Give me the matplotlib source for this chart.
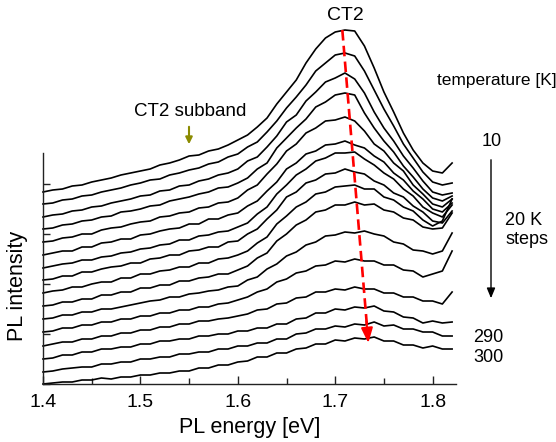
import numpy as np
import matplotlib
matplotlib.use('Agg')
import matplotlib.pyplot as plt

plt.rcParams['font.family'] = ['Liberation Sans', 'DejaVu Sans']

# PL energy grid [eV]
energy = np.round(np.arange(1.40, 1.8201, 0.01), 2)

temperatures = [10, 30, 50, 70, 90, 110, 130, 150, 170, 190, 210, 230, 250, 270, 290, 300]

# stacked PL spectra (arb. units, already vertically offset), top = 10 K
pl_10 = [192,194,195,198,199,202,204,206,209,211, 213,215,219,221,224,228,229,233,235,239,
         244,249,257,266,280,292,304,321,335,346, 352,354,353,338,316,292,272,251,234,221, 213,211,221]
pl_30 = [180,181,184,185,188,189,192,194,196,199, 201,204,205,209,211,214,216,220,222,227,
         230,237,242,252,263,276,287,299,313,321, 329,331,328,313,294,275,258,240,226,212, 202,199,201]
pl_50 = [167,169,170,173,174,177,178,181,183,185, 188,189,193,194,198,199,203,205,209,211,
         215,223,227,237,248,262,269,283,292,302, 306,311,305,291,272,256,243,228,216,203, 192,189,191]
pl_70 = [155,156,159,160,163,164,167,168,172,173, 175,178,179,183,185,187,190,192,196,197,
         201,206,215,221,236,246,256,265,277,282, 289,291,289,271,256,243,232,218,207,195, 186,183,188]
pl_90 = [142,143,146,147,150,150,154,156,157,160, 162,163,167,168,171,172,176,177,181,182,
         186,194,199,210,220,233,240,251,256,263, 264,267,263,253,240,233,221,213,199,190, 180,177,185]
pl_110 = [129,131,133,133,137,137,141,142,145,145, 149,150,153,155,156,160,160,165,165,169,
          171,178,183,193,202,215,221,230,233,239, 240,243,239,236,228,222,211,204,193,185, 175,172,181]
pl_130 = [116,118,120,121,124,124,127,128,131,132, 135,136,139,140,144,144,148,149,152,153,
          157,161,170,177,190,199,209,215,223,226, 231,231,232,225,219,211,205,195,188,177, 171,167,179]
pl_150 = [104,105,108,108,112,112,115,117,118,121, 121,125,126,129,129,133,134,137,137,142,
          143,150,155,165,174,187,192,201,204,210, 211,215,212,210,203,199,191,187,178,172, 163,161,173]
pl_170 = [91,93,94,97,97,100,102,102,106,106, 110,110,113,114,117,117,121,121,125,126,
          129,133,141,147,160,168,177,182,190,192, 197,198,199,195,195,187,184,177,173,164, 158,163,185]
pl_190 = [78,79,82,82,85,85,89,89,92,92, 96,96,99,99,103,103,106,107,110,110,
          114,118,126,131,143,150,159,164,172,174, 179,179,182,179,180,174,172,166,164,157, 155,156,171]
pl_210 = [65,66,69,69,72,72,75,75,77,79, 81,83,84,87,87,90,91,93,94,97,
          98,104,107,115,120,128,132,139,142,148, 149,152,151,153,150,148,142,140,134,133, 130,133,151]
pl_230 = [52,53,56,56,59,59,62,62,65,65, 68,68,71,71,74,74,77,77,80,81,
          84,87,92,95,102,105,111,113,118,119, 123,122,125,123,123,119,119,114,113,107, 110,113,133]
pl_250 = [38,40,42,42,45,45,48,48,51,51, 54,54,57,57,60,60,63,63,65,66,
          68,70,74,75,80,81,86,87,92,92, 95,94,97,95,95,91,91,87,87,83, 83,80,92]
pl_270 = [25,26,29,29,32,32,35,35,37,37, 40,40,43,43,45,45,48,48,50,50,
          53,53,56,56,60,60,65,66,71,71, 75,74,77,76,78,73,72,67,66,61, 63,61,62]
pl_290 = [12,13,15,16,17,17,20,20,22,22, 25,25,27,27,30,30,32,32,35,35,
          38,38,41,41,45,45,50,51,55,55, 58,57,60,59,62,58,59,55,55,52, 52,48,48]
pl_300 = [0,1,2,2,4,4,6,5,7,7, 9,9,11,11,13,13,16,16,19,19,
          22,23,27,27,31,31,35,36,40,40, 44,43,46,45,47,43,43,39,39,36, 38,35,35]

spectra = [pl_10, pl_30, pl_50, pl_70, pl_90, pl_110, pl_130, pl_150, pl_170,
           pl_190, pl_210, pl_230, pl_250, pl_270, pl_290, pl_300]

# CT2 peak shift (energy, intensity) from 10 K to 300 K
ct2_shift_E = [1.7073, 1.7325]
ct2_shift_I = [354, 59]
ct2_tip = (1.734, 41)

xticks = [1.4, 1.5, 1.6, 1.7, 1.8]
xtick_labels = ['1.4', '1.5', '1.6', '1.7', '1.8']

W, H = 556, 442
fig = plt.figure(figsize=(W / 100, H / 100), dpi=100)
ax = fig.add_axes([43 / W, 1 - 384 / H, (456 - 43) / W, (384 - 20) / H])

for s in spectra:
    ax.plot(energy, s, color='black', lw=1.2, clip_on=False, solid_joinstyle='round')

ax.set_xlim(1.4, 1.824)
ax.set_ylim(0, 364)
for side in ['top', 'right']:
    ax.spines[side].set_visible(False)
ax.spines['left'].set_bounds(0, 231)
for side in ['left', 'bottom']:
    ax.spines[side].set_linewidth(1.0)
    ax.spines[side].set_color('#222222')

ax.set_xticks(xticks)
ax.set_xticklabels(xtick_labels)
ax.set_xticks([1.45, 1.55, 1.65, 1.75], minor=True)
ax.tick_params(axis='x', which='major', direction='in', length=6, width=1.0,
               labelsize=14, pad=7, color='#222222')
ax.tick_params(axis='x', which='minor', direction='in', length=4, width=1.0, color='#222222')
ax.set_yticks([0, 50, 100, 150, 200])
ax.set_yticklabels([])
ax.tick_params(axis='y', which='major', direction='in', length=5, width=1.0, color='#222222')

# red dashed peak-shift line with arrowhead
ax.plot(ct2_shift_E, ct2_shift_I, color='red', lw=1.9, linestyle=(0, (4, 2)), clip_on=False)
ax.annotate('', xy=ct2_tip, xytext=(ct2_shift_E[1] - 0.0005, ct2_shift_I[1] + 4),
            arrowprops=dict(arrowstyle='-|>,head_length=0.9,head_width=0.35',
                            color='red', lw=1.5, shrinkA=0, shrinkB=0),
            annotation_clip=False)

def ft(x, y, s, **kw):
    fig.text(x / W, 1 - y / H, s, **kw)

ft(345, 15, 'CT2', ha='center', va='center', fontsize=14)
ft(190, 111, 'CT2 subband', ha='center', va='center', fontsize=13.5)
ft(497, 80, 'temperature [K]', ha='center', va='center', fontsize=12.5)
ft(492, 142, '10', ha='center', va='center', fontsize=13)
ft(505, 230, '20 K\nsteps', ha='left', va='center', fontsize=13, linespacing=1.15)
ft(488, 338, '290', ha='center', va='center', fontsize=13)
ft(488, 358, '300', ha='center', va='center', fontsize=13)
ft(18, 286, 'PL intensity', ha='center', va='center', fontsize=15.5, rotation=90)
ft(250, 428, 'PL energy [eV]', ha='center', va='center', fontsize=15.5)

# olive arrow to the CT2 subband
fig.add_artist(matplotlib.patches.FancyArrowPatch(
    (189 / W, 1 - 124 / H), (189 / W, 1 - 147 / H), transform=fig.transFigure,
    arrowstyle='-|>,head_length=4,head_width=2', color='#8b8b00', lw=1.5, mutation_scale=1))
# black temperature arrow
fig.add_artist(matplotlib.patches.FancyArrowPatch(
    (491 / W, 1 - 157 / H), (491 / W, 1 - 301 / H), transform=fig.transFigure,
    arrowstyle='-|>,head_length=6,head_width=2.5', color='black', lw=1.0, mutation_scale=1))

fig.savefig('out.png', dpi=100)
